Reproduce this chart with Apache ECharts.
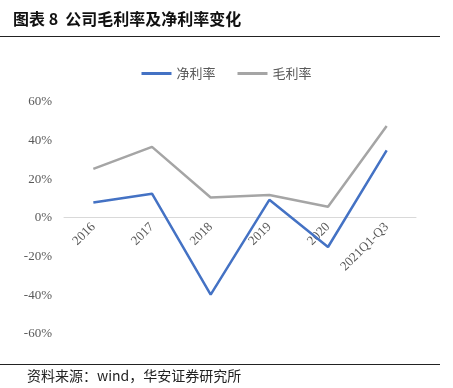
<!DOCTYPE html>
<html><head><meta charset="utf-8">
<script src="https://cdn.jsdelivr.net/npm/echarts@6/dist/echarts.min.js"></script>
<style>html,body{margin:0;padding:0;background:#fff;}#c{width:453px;height:388px;}</style>
</head><body><div id="c"></div>
<script>
const categories = ['2016','2017','2018','2019','2020','2021Q1-Q3'];
const netMargin = [8.0, 12.6, -39.6, 9.4, -15.0, 35.0];
const grossMargin = [25.4, 36.8, 10.6, 11.9, 5.8, 47.6];
const yTicks = {min: -60, max: 60, interval: 20};

const chart = echarts.init(document.getElementById('c'));
const cjk = '"Noto Sans CJK SC", sans-serif';
const serif = '"Liberation Serif", "Times New Roman", serif';
chart.setOption({
  animation: false,
  graphic: [
    {type:'text', left:13, top:11, style:{text:'图表 8  公司毛利率及净利率变化', font:'bold 16px ' + cjk, fill:'#111'}},
    {type:'line', shape:{x1:0,y1:36.5,x2:440,y2:36.5}, style:{stroke:'#222', lineWidth:1}},
    {type:'line', shape:{x1:0,y1:364.5,x2:440,y2:364.5}, style:{stroke:'#222', lineWidth:1}},
    {type:'text', left:27, top:369, style:{text:'资料来源：wind，华安证券研究所', font:'14px ' + cjk, fill:'#222'}}
  ],
  legend: {
    top: 62, left: 'center', itemWidth: 30, itemHeight: 3, itemGap: 22,
    icon: 'rect',
    textStyle: {fontFamily: cjk, fontSize: 13, color: '#595959'},
    data: ['净利率','毛利率']
  },
  grid: {left: 64, right: 37, top: 102, bottom: 54},
  xAxis: {
    type: 'category', data: categories, boundaryGap: true,
    position: 'bottom', offset: -117,
    axisLine: {onZero: false, lineStyle: {color: '#D9D9D9', width: 1}},
    axisTick: {show: false},
    axisLabel: {rotate: 45, color: '#595959', fontFamily: serif, fontSize: 13, margin: 8, interval: 0}
  },
  yAxis: {
    type: 'value', min: yTicks.min, max: yTicks.max, interval: yTicks.interval,
    axisLine: {show: false}, axisTick: {show: false}, splitLine: {show: false},
    axisLabel: {formatter: '{value}%', color: '#595959', fontFamily: serif, fontSize: 13, margin: 12}
  },
  series: [
    {name:'净利率', type:'line', data: netMargin, symbol:'none', lineStyle:{color:'#4472C4', width:2.5}, itemStyle:{color:'#4472C4'}},
    {name:'毛利率', type:'line', data: grossMargin, symbol:'none', lineStyle:{color:'#A5A5A5', width:2.5}, itemStyle:{color:'#A5A5A5'}}
  ]
});
</script></body></html>
